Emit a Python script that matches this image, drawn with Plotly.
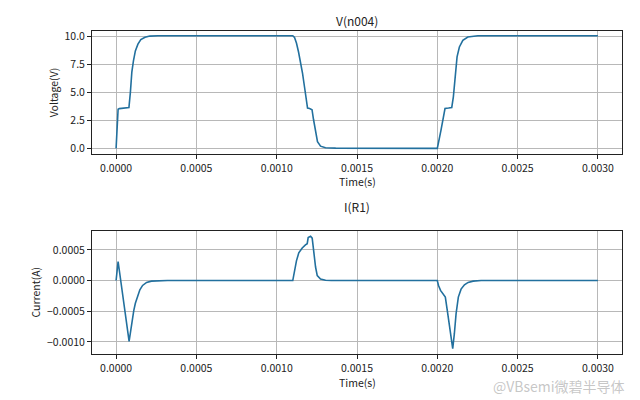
import plotly.graph_objects as go

# ---- data ----
time_v = [0, 1.25e-5, 2e-5, 5e-5, 8e-5, 8.9e-5, 9.8e-5, 1.08e-4, 1.2e-4, 1.36e-4, 1.54e-4,
          1.8e-4, 2.1e-4, 2.6e-4, 1.1e-3, 1.111e-3, 1.123e-3, 1.136e-3, 1.148e-3, 1.161e-3,
          1.173e-3, 1.186e-3, 1.192e-3, 1.205e-3, 1.22e-3, 1.229e-3, 1.242e-3, 1.254e-3,
          1.273e-3, 1.304e-3, 1.367e-3, 2.0e-3, 2.023e-3, 2.04e-3, 2.048e-3, 2.07e-3,
          2.09e-3, 2.1e-3, 2.111e-3, 2.123e-3, 2.1375e-3, 2.159e-3, 2.19e-3, 2.2525e-3, 3.0e-3]
voltage = [0, 3.5, 3.55, 3.6, 3.65, 5.0, 6.8, 7.8, 8.7, 9.3, 9.7,
           9.92, 10.02, 10.05, 10.05, 9.9, 9.4, 8.6, 7.8, 6.7,
           5.5, 4.1, 3.6, 3.55, 3.45, 2.6, 1.4, 0.6,
           0.2, 0.06, 0.02, 0.0, 1.63, 3.12, 3.56, 3.6,
           3.65, 4.6, 6.68, 8.16, 9.05, 9.64, 9.94, 10.05, 10.05]

time_i = [0, 1.25e-5, 8.1e-5, 9.0e-5, 1.0e-4, 1.1e-4, 1.2e-4, 1.32e-4, 1.48e-4, 1.65e-4,
          1.9e-4, 2.2e-4, 2.7e-4, 3.2e-4, 1.1e-3, 1.111e-3, 1.123e-3, 1.1375e-3, 1.159e-3,
          1.179e-3, 1.19e-3, 1.196e-3, 1.211e-3, 1.221e-3, 1.231e-3, 1.242e-3, 1.2525e-3,
          1.273e-3, 1.304e-3, 1.34e-3, 2.0e-3, 2.0075e-3, 2.02e-3, 2.039e-3, 2.05e-3,
          2.065e-3, 2.081e-3, 2.096e-3, 2.106e-3, 2.117e-3, 2.131e-3, 2.148e-3, 2.169e-3,
          2.192e-3, 2.223e-3, 2.273e-3, 3.0e-3]
current = [0, 3.1e-4, -9.9e-4, -8.3e-4, -6.4e-4, -4.9e-4, -3.7e-4, -2.6e-4, -1.5e-4, -8e-5,
           -3e-5, -1e-5, -2e-6, 0, 0, 1.6e-4, 3.2e-4, 4.5e-4, 5.3e-4,
           5.8e-4, 6.0e-4, 7.0e-4, 7.2e-4, 6.9e-4, 4.3e-4, 2.2e-4, 8e-5,
           2.5e-5, 5e-6, 0, 0, -8e-5, -1.6e-4, -2.2e-4, -2.7e-4,
           -5.4e-4, -8.7e-4, -1.11e-3, -8.7e-4, -5.4e-4, -2.7e-4, -1.4e-4, -7e-5,
           -3e-5, -1e-5, 0, 0]

x_ticks = [0, 0.0005, 0.001, 0.0015, 0.002, 0.0025, 0.003]
v_ticks = [0, 2.5, 5.0, 7.5, 10.0]
i_ticks = [-0.001, -0.0005, 0, 0.0005]

FONT = "Noto Sans CJK SC"
LINE = "#22709e"

fig = go.Figure()
fig.add_trace(go.Scatter(x=time_v, y=voltage, mode="lines", line=dict(color=LINE, width=1.6),
                         xaxis="x", yaxis="y", showlegend=False, hoverinfo="skip"))
fig.add_trace(go.Scatter(x=time_i, y=current, mode="lines", line=dict(color=LINE, width=1.6),
                         xaxis="x2", yaxis="y2", showlegend=False, hoverinfo="skip"))

common = dict(showgrid=True, gridcolor="#b8b8b8", gridwidth=0.8, showline=True, mirror=True,
              linecolor="#222222", linewidth=1, ticks="outside", ticklen=4, tickcolor="#222222",
              zeroline=False, automargin=False,
              tickfont=dict(family=FONT, size=10.5, color="#222222"))

xdom = [92 / 640, 622 / 640]
fig.update_layout(
    width=640, height=400, autosize=False,
    margin=dict(l=0, r=0, t=0, b=0),
    paper_bgcolor="white", plot_bgcolor="white",
    xaxis=dict(domain=xdom, anchor="y", range=[-0.00015, 0.00315], tickvals=x_ticks,
               tickformat=".4f", **common),
    yaxis=dict(domain=[1 - 154 / 400, 1 - 30.7 / 400], anchor="x", range=[-0.5, 10.5],
               tickvals=v_ticks, tickformat=".1f", **common),
    xaxis2=dict(domain=xdom, anchor="y2", range=[-0.00015, 0.00315], tickvals=x_ticks,
                tickformat=".4f", **common),
    yaxis2=dict(domain=[1 - 354.3 / 400, 1 - 230.7 / 400], anchor="x2",
                range=[-0.0012015, 0.0008115], tickvals=i_ticks, tickformat=".4f", **common),
)

cx = 357 / 640
ann = [
    dict(text="V(n004)", x=cx, y=1 - 20 / 400, size=12),
    dict(text="I(R1)", x=cx, y=1 - 207 / 400, size=12),
    dict(text="Time(s)", x=cx, y=1 - 181 / 400, size=10.5),
    dict(text="Time(s)", x=cx, y=1 - 382 / 400, size=10.5),
]
for a in ann:
    fig.add_annotation(text=a["text"], x=a["x"], y=a["y"], xref="paper", yref="paper",
                       showarrow=False, xanchor="center", yanchor="middle",
                       font=dict(family=FONT, size=a["size"], color="#222222"))
fig.add_annotation(text="Voltage(V)", x=53 / 640, y=1 - 92.3 / 400, xref="paper", yref="paper",
                   showarrow=False, textangle=-90, xanchor="center", yanchor="middle",
                   font=dict(family=FONT, size=10.5, color="#222222"))
fig.add_annotation(text="Current(A)", x=35 / 640, y=1 - 292.5 / 400, xref="paper", yref="paper",
                   showarrow=False, textangle=-90, xanchor="center", yanchor="middle",
                   font=dict(family=FONT, size=10.5, color="#222222"))
fig.add_annotation(text="@VBsemi微碧半导体", x=627 / 640, y=1 - 386 / 400, xref="paper",
                   yref="paper", showarrow=False, xanchor="right", yanchor="middle",
                   font=dict(family=FONT, size=14, color="rgba(150,150,150,0.55)"))

fig.write_html("out.html", config={"displayModeBar": False},
               post_script="document.body.style.margin='0px';document.body.style.padding='0px';")
